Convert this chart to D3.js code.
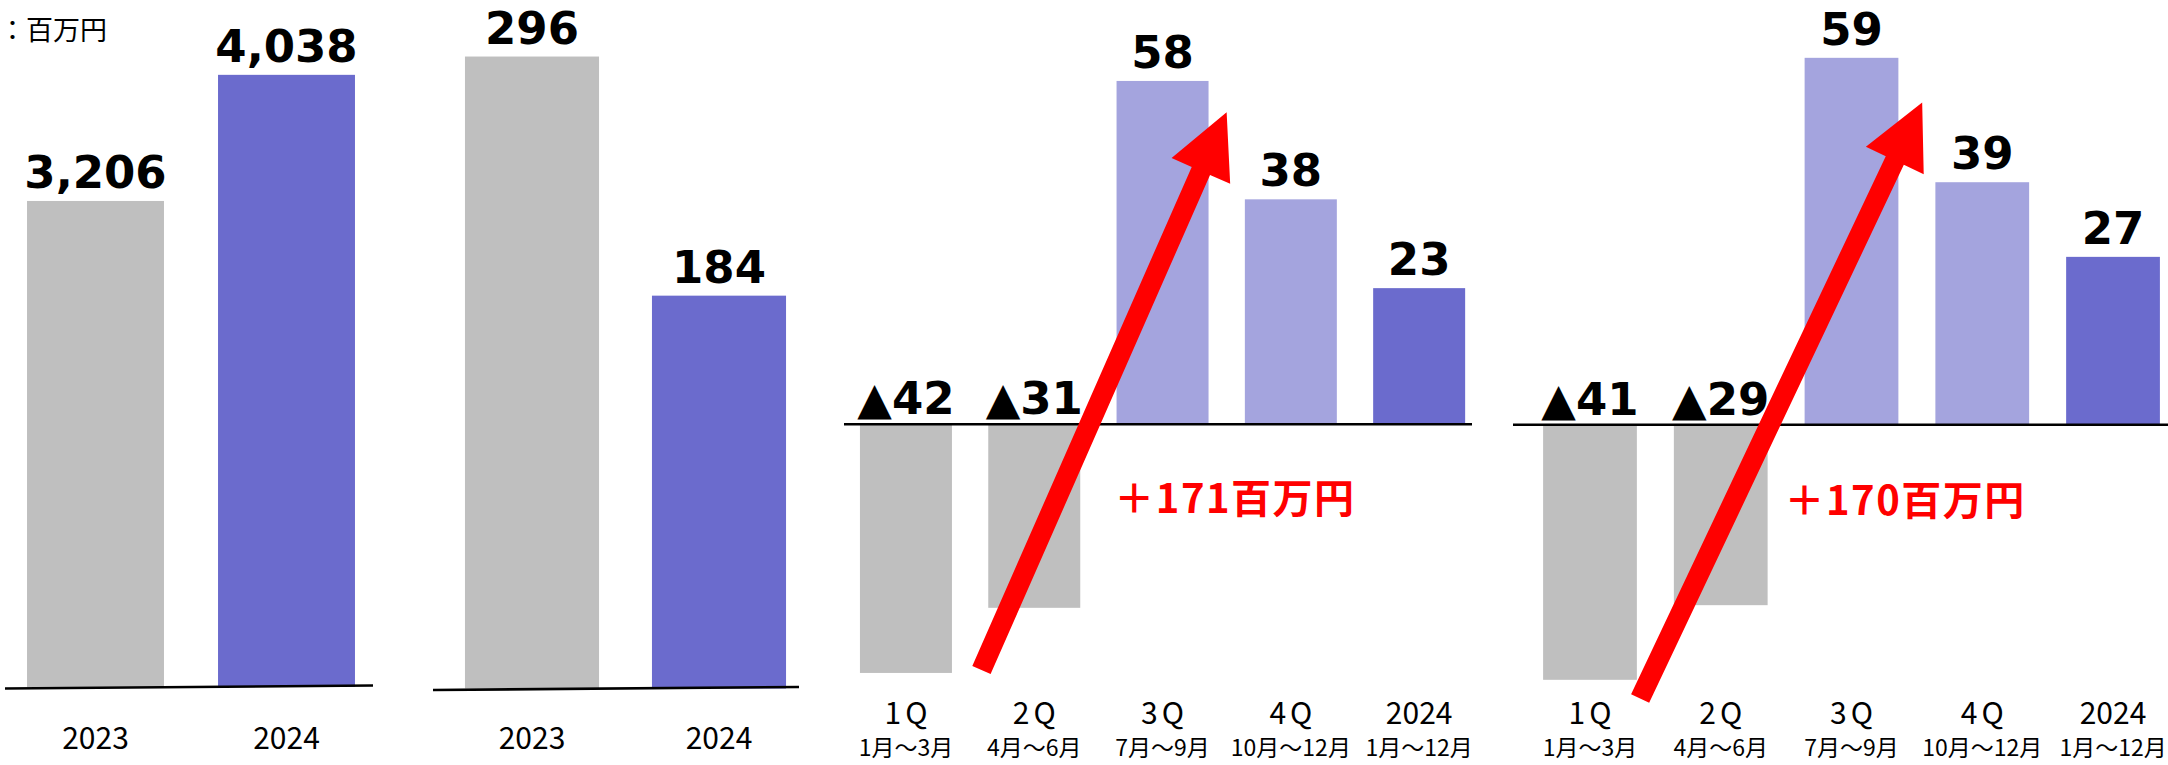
<!DOCTYPE html>
<html><head><meta charset="utf-8">
<script src="https://cdn.jsdelivr.net/npm/d3@7"></script>
<style>html,body{margin:0;padding:0;background:#fff;} svg{display:block;}</style>
</head><body><svg id="c" width="2168" height="765"></svg>
<script>
// ---- data ----
const unitLabel = "：百万円";
const salesCategories = ["2023", "2024"];
const salesValues = [3206, 4038];
const profitCategories = ["2023", "2024"];
const profitValues = [296, 184];
const quarterCategories = ["1Q", "2Q", "3Q", "4Q", "2024"];
const quarterPeriods = ["1月～3月", "4月～6月", "7月～9月", "10月～12月", "1月～12月"];
const operatingValues = [-42, -31, 58, 38, 23];
const ordinaryValues = [-41, -29, 59, 39, 27];
const operatingChange = "＋171百万円";
const ordinaryChange = "＋170百万円";

// ---- styles ----
const GRAY = "#BFBFBF", BLUE = "#6B6BCD", LIGHT = "#A4A4DE", RED = "#FF0000";
const NUM_FONT = "'DejaVu Sans', Verdana, sans-serif";
const JP_FONT = "'Noto Sans CJK JP', 'Noto Sans', sans-serif";

const fmtVal = v => v < 0 ? "▲" + d3.format(",")(-v) : d3.format(",")(v);

const panels = [
  { cats: salesCategories, values: salesValues, colors: [GRAY, BLUE],
    xRange: [0, 382], yDomain: [0, 4500], y0: 687, ppu: 0.1516,
    line: [5, 373], slant: 3, type: "year", labelY: 749 },
  { cats: profitCategories, values: profitValues, colors: [GRAY, BLUE],
    xRange: [438.5, 812.5], yDomain: [0, 300], y0: 688.5, ppu: 2.135,
    line: [433, 799], slant: 3, type: "year", labelY: 749 },
  { cats: quarterCategories, values: operatingValues, colors: [GRAY, GRAY, LIGHT, LIGHT, BLUE],
    xRange: [841.8, 1483.3], yDomain: [-50, 65], y0: 424.3, ppu: 5.92,
    line: [844, 1472], slant: 0, type: "quarter",
    arrow: { from: [0.947, -41.5], to: [2.858, 52.7] },
    change: { text: operatingChange, xf: 2.923, v: -14.9 } },
  { cats: quarterCategories, values: ordinaryValues, colors: [GRAY, GRAY, LIGHT, LIGHT, BLUE],
    xRange: [1524.6, 2178.4], yDomain: [-50, 65], y0: 424.8, ppu: 6.22,
    line: [1513, 2168], slant: 0, type: "quarter",
    arrow: { from: [0.742, -44], to: [2.899, 51.8] },
    change: { text: ordinaryChange, xf: 2.769, v: -14.5 } }
];

const svg = d3.select("#c");

// unit label
svg.append("text").attr("x", 107).attr("y", 40).attr("text-anchor", "end")
  .attr("font-family", JP_FONT).attr("font-size", 27).attr("fill", "#000").text(unitLabel);

panels.forEach(p => {
  const x = d3.scaleBand().domain(p.cats).range(p.xRange).paddingInner(0.283).paddingOuter(0.1415);
  const y = d3.scaleLinear().domain(p.yDomain)
    .range([p.y0 - p.yDomain[0] * p.ppu, p.y0 - p.yDomain[1] * p.ppu]);
  const g = svg.append("g");
  const rows = p.cats.map((c, i) => ({ c, v: p.values[i], col: p.colors[i] }));

  g.selectAll("rect.bar").data(rows).join("rect").attr("class", "bar")
    .attr("x", d => x(d.c)).attr("width", x.bandwidth())
    .attr("y", d => Math.min(y(d.v), y(0)))
    .attr("height", d => Math.abs(y(d.v) - y(0)))
    .attr("fill", d => d.col);

  // baseline
  g.append("line").attr("x1", p.line[0]).attr("x2", p.line[1])
    .attr("y1", y(0) + p.slant / 2).attr("y2", y(0) - p.slant / 2)
    .attr("stroke", "#000").attr("stroke-width", 2.6);

  // arrow
  if (p.arrow) {
    const px = f => x(p.cats[0]) + f * x.step();
    const s = [px(p.arrow.from[0]), y(p.arrow.from[1])];
    const e = [px(p.arrow.to[0]), y(p.arrow.to[1])];
    const dx = e[0] - s[0], dy = e[1] - s[1], L = Math.hypot(dx, dy);
    const u = [dx / L, dy / L], n = [-u[1], u[0]];
    const w = 20, hw = 64, hl = 64;
    const hb = [e[0] - u[0] * hl, e[1] - u[1] * hl];
    const pt = (b, k) => [b[0] + n[0] * k, b[1] + n[1] * k];
    const pts = [pt(s, w / 2), pt(hb, w / 2), pt(hb, hw / 2), e, pt(hb, -hw / 2), pt(hb, -w / 2), pt(s, -w / 2)];
    g.append("path").attr("d", d3.line()(pts) + "Z").attr("fill", RED);
  }

  // value labels
  g.selectAll("text.val").data(rows).join("text").attr("class", "val")
    .attr("x", d => x(d.c) + x.bandwidth() / 2)
    .attr("y", d => d.v >= 0 ? y(d.v) - 13 : y(0) - 10)
    .attr("text-anchor", "middle").attr("font-family", NUM_FONT)
    .attr("font-weight", "bold").attr("font-size", 45).attr("fill", "#000")
    .text(d => fmtVal(d.v));

  // category axis
  if (p.type === "year") {
    const ax = g.append("g").attr("transform", `translate(0,${p.labelY})`)
      .call(d3.axisBottom(x).tickSize(0).tickPadding(0));
    ax.select(".domain").remove();
    ax.selectAll("text").attr("y", 0).attr("dy", 0)
      .attr("font-family", JP_FONT).attr("font-size", 30).attr("fill", "#000");
  } else {
    const ax = g.append("g").attr("transform", "translate(0,724)")
      .call(d3.axisBottom(x).tickSize(0).tickPadding(0));
    ax.select(".domain").remove();
    ax.selectAll("text").attr("y", 0).attr("dy", 0)
      .attr("font-family", JP_FONT).attr("font-size", 30).attr("fill", "#000")
      .style("letter-spacing", d => /Q$/.test(d) ? "4px" : "0px")
      .attr("dx", d => /Q$/.test(d) ? 2 : 0);
    ax.selectAll(".tick").append("text")
      .attr("y", 32).attr("text-anchor", "middle")
      .attr("font-family", JP_FONT).attr("font-size", 23).attr("fill", "#000")
      .text((d, i) => quarterPeriods[i]);
  }

  if (p.change) {
    g.append("text")
      .attr("x", x(p.cats[0]) + p.change.xf * x.step())
      .attr("y", y(p.change.v))
      .attr("text-anchor", "middle").attr("font-family", JP_FONT)
      .attr("font-weight", "bold").attr("font-size", 40).attr("fill", RED)
      .style("letter-spacing", "1.5px")
      .text(p.change.text);
  }
});
</script></body></html>
